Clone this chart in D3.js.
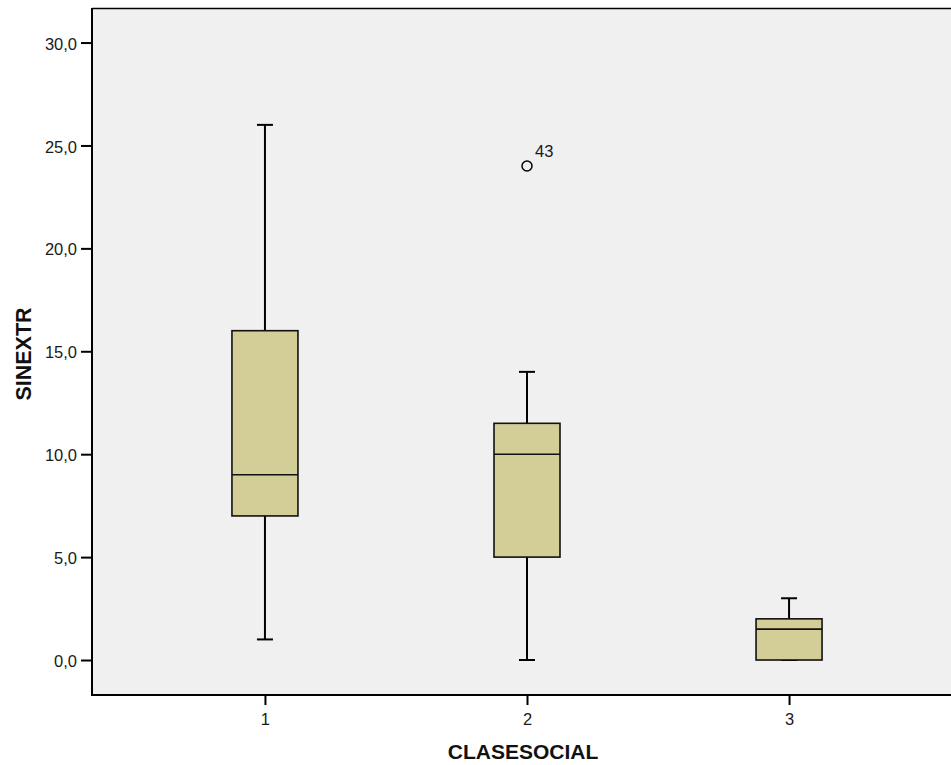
<!DOCTYPE html>
<html>
<head>
<meta charset="utf-8">
<script src="https://cdn.jsdelivr.net/npm/d3@7"></script>
<style>
  html, body { margin: 0; padding: 0; background: #fff; }
  svg { display: block; font-family: Arial, "Liberation Sans", sans-serif; }
</style>
</head>
<body>
<svg id="chart" width="951" height="765"></svg>
<script>
// Box-plot summary for SINEXTR by CLASESOCIAL
const categories  = ["1", "2", "3"];
const whiskerLow  = [1, 0, 0];
const quartile1   = [7, 5, 0];
const medians     = [9, 10, 1.5];
const quartile3   = [16, 11.5, 2];
const whiskerHigh = [26, 14, 3];
const outliers    = [{ cat: "2", value: 24, label: "43" }];
const yTicks      = [0, 5, 10, 15, 20, 25, 30];

const svg = d3.select("#chart");
const plot = { left: 92, top: 9, right: 962, bottom: 695 };

const x = d3.scalePoint().domain(categories).range([plot.left, plot.right]).padding(0.66);
const y = d3.scaleLinear().domain([-1.7, 31.63]).range([plot.bottom, plot.top]);

const boxW = 66, capW = 16;
const labelFont = 16.5;

// plot background
svg.append("rect")
  .attr("x", plot.left).attr("y", plot.top)
  .attr("width", 951 - plot.left).attr("height", plot.bottom - plot.top)
  .attr("fill", "#f0f0f0");

// frame: top line
svg.append("line")
  .attr("x1", plot.left).attr("x2", 951)
  .attr("y1", plot.top - 0.5).attr("y2", plot.top - 0.5)
  .attr("stroke", "#000").attr("stroke-width", 1.5);

const fmt = d => d3.format(".1f")(d).replace(".", ",");

// y axis
const yAxis = svg.append("g")
  .attr("transform", `translate(${plot.left},0)`)
  .call(d3.axisLeft(y).tickValues(yTicks).tickFormat(fmt).tickSize(11).tickPadding(4));
yAxis.select(".domain")
  .attr("d", `M0,${plot.top - 1}V${plot.bottom}`)
  .attr("stroke", "#000").attr("stroke-width", 2);
yAxis.selectAll(".tick line").attr("stroke", "#000").attr("stroke-width", 2);
yAxis.selectAll(".tick text")
  .attr("font-size", labelFont).attr("fill", "#1a1a1a")
  .attr("font-family", "Arial, 'Liberation Sans', sans-serif")
  .attr("dy", "0.4em");

// x axis
const xAxis = svg.append("g")
  .attr("transform", `translate(0,${plot.bottom})`)
  .call(d3.axisBottom(x).tickSize(10).tickPadding(8));
xAxis.select(".domain")
  .attr("d", `M${plot.left - 1},0H951`)
  .attr("stroke", "#000").attr("stroke-width", 2);
xAxis.selectAll(".tick line").attr("stroke", "#000").attr("stroke-width", 2);
xAxis.selectAll(".tick text")
  .attr("font-size", labelFont).attr("fill", "#1a1a1a")
  .attr("font-family", "Arial, 'Liberation Sans', sans-serif");

// boxes
const rows = categories.map((c, i) => ({
  cat: c, lo: whiskerLow[i], q1: quartile1[i], med: medians[i], q3: quartile3[i], hi: whiskerHigh[i]
}));

const g = svg.append("g").selectAll("g").data(rows).join("g");

// whisker stems
g.append("line")
  .attr("x1", d => x(d.cat)).attr("x2", d => x(d.cat))
  .attr("y1", d => y(d.hi)).attr("y2", d => y(d.q3))
  .attr("stroke", "#000").attr("stroke-width", 2);
g.append("line")
  .attr("x1", d => x(d.cat)).attr("x2", d => x(d.cat))
  .attr("y1", d => y(d.q1)).attr("y2", d => y(d.lo))
  .attr("stroke", "#000").attr("stroke-width", 2);
// whisker caps
g.append("line")
  .attr("x1", d => x(d.cat) - capW / 2).attr("x2", d => x(d.cat) + capW / 2)
  .attr("y1", d => y(d.hi)).attr("y2", d => y(d.hi))
  .attr("stroke", "#000").attr("stroke-width", 2);
g.append("line")
  .attr("x1", d => x(d.cat) - capW / 2).attr("x2", d => x(d.cat) + capW / 2)
  .attr("y1", d => y(d.lo)).attr("y2", d => y(d.lo))
  .attr("stroke", "#000").attr("stroke-width", 2);
// box
g.append("rect")
  .attr("x", d => x(d.cat) - boxW / 2).attr("width", boxW)
  .attr("y", d => y(d.q3)).attr("height", d => y(d.q1) - y(d.q3))
  .attr("fill", "#d3ce97").attr("stroke", "#111").attr("stroke-width", 1.6);
// median
g.append("line")
  .attr("x1", d => x(d.cat) - boxW / 2).attr("x2", d => x(d.cat) + boxW / 2)
  .attr("y1", d => y(d.med)).attr("y2", d => y(d.med))
  .attr("stroke", "#111").attr("stroke-width", 1.6);

// outliers
const og = svg.append("g").selectAll("g").data(outliers).join("g");
og.append("circle")
  .attr("cx", d => x(d.cat)).attr("cy", d => y(d.value)).attr("r", 5)
  .attr("fill", "none").attr("stroke", "#000").attr("stroke-width", 1.5);
og.append("text")
  .attr("x", d => x(d.cat) + 8).attr("y", d => y(d.value) - 9)
  .attr("font-size", labelFont).attr("fill", "#1a1a1a")
  .text(d => d.label);

// axis titles
svg.append("text")
  .attr("x", 523).attr("y", 759)
  .attr("text-anchor", "middle")
  .attr("font-size", 21).attr("font-weight", "bold").attr("fill", "#111")
  .text("CLASESOCIAL");
svg.append("text")
  .attr("transform", "translate(31,354) rotate(-90)")
  .attr("text-anchor", "middle")
  .attr("font-size", 21.5).attr("font-weight", "bold").attr("fill", "#111")
  .text("SINEXTR");
</script>
</body>
</html>
